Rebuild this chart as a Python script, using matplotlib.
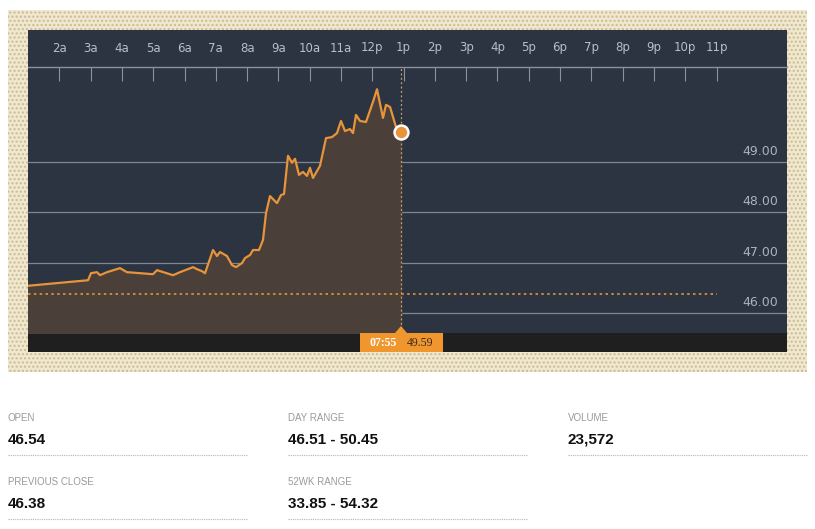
import matplotlib.pyplot as plt
from matplotlib.patches import Rectangle, Polygon

# intraday price, x in hours (1 = 1a)
px_x = [28, 88, 91, 97, 100, 107, 120, 127, 153, 157, 173, 180, 193, 197, 202, 205, 213, 217, 220, 227,
        232, 236, 242, 245, 250, 253, 259, 263, 266, 270, 277, 281, 284, 288, 292, 295, 299, 303, 307, 310,
        313, 320, 326, 332, 337, 341, 345, 350, 353, 356, 360, 366, 373, 377, 383, 386, 390, 396, 401]
hours = [1 + (v - 28) / 31.3 for v in px_x]
prices = [46.54, 46.65, 46.79, 46.81, 46.75, 46.81, 46.89, 46.81, 46.77, 46.85, 46.75, 46.81, 46.91, 46.87,
          46.83, 46.79, 47.25, 47.13, 47.21, 47.13, 46.95, 46.91, 46.99, 47.09, 47.15, 47.25, 47.25, 47.45,
          47.98, 48.32, 48.18, 48.34, 48.36, 49.12, 48.98, 49.06, 48.74, 48.80, 48.72, 48.88, 48.68, 48.92,
          49.47, 49.49, 49.57, 49.81, 49.61, 49.65, 49.57, 49.93, 49.81, 49.79, 50.19, 50.44, 49.87, 50.13,
          50.09, 49.69, 49.59]
prev_close = 46.38
last_time = "07:55"
last_price = "49.59"
tick_labels = ["2a", "3a", "4a", "5a", "6a", "7a", "8a", "9a", "10a", "11a", "12p",
               "1p", "2p", "3p", "4p", "5p", "6p", "7p", "8p", "9p", "10p", "11p"]
tick_hours = list(range(2, 24))
grid_prices = [46, 47, 48, 49]
stats = [("OPEN", "46.54"), ("DAY RANGE", "46.51 - 50.45"), ("VOLUME", "23,572"),
         ("PREVIOUS CLOSE", "46.38"), ("52WK RANGE", "33.85 - 54.32")]

W, H = 815, 529
fig = plt.figure(figsize=(W / 100, H / 100), dpi=100)
fig.patch.set_facecolor('white')

def fr(x0, y0, x1, y1):
    return [x0 / W, 1 - y1 / H, (x1 - x0) / W, (y1 - y0) / H]

# beige dotted frame + dark panel (behind the axes)
fig.patches.append(Rectangle((8 / W, 1 - 372 / H), 799 / W, 362 / H, transform=fig.transFigure,
                             facecolor='#efe7d0', edgecolor='#cdbb8c', hatch='....', lw=0, zorder=-3))
fig.patches.append(Rectangle((28 / W, 1 - 352 / H), 759 / W, 322 / H, transform=fig.transFigure,
                             facecolor='#2b3440', edgecolor='none', zorder=-2))
fig.patches.append(Rectangle((28 / W, 1 - 352 / H), 759 / W, 19 / H, transform=fig.transFigure,
                             facecolor='#1f1f1f', edgecolor='none', zorder=-1))

ax = fig.add_axes(fr(28, 67, 787, 333))
ax.set_facecolor('#2b3440')
xlim = (1, 1 + (787 - 28) / 31.3)
ax.set_xlim(*xlim)
ax.set_ylim(46 - 20 / 50.4, 46 + 246 / 50.4)
for s in ['left', 'right', 'bottom']:
    ax.spines[s].set_visible(False)
ax.spines['top'].set_color('#8a929c')
ax.spines['top'].set_linewidth(1)
ax.xaxis.tick_top()
ax.set_xticks(tick_hours)
ax.set_xticklabels(tick_labels, color='#b7bec8', fontsize=8.5)
ax.tick_params(axis='x', direction='in', length=10, color='#8a929c', pad=9)
ax.set_yticks([])

for g in grid_prices:
    ax.axhline(g, color='#7e8690', lw=0.9, zorder=1)
    ax.text(xlim[1] - 0.28, g + 0.08, f"{g:.2f}", color='#aab2bc', fontsize=9, ha='right', va='bottom')

ax.fill_between(hours, prices, ax.get_ylim()[0], color='#4a4039', zorder=2)
ax.plot(hours, prices, color='#e8943a', lw=1.6, zorder=3)
ax.axhline(prev_close, xmin=0, xmax=(23 - xlim[0]) / (xlim[1] - xlim[0]), color='#e8943a',
           ls=(0, (1.5, 2)), lw=1.2, zorder=3)
ax.axvline(hours[-1], color='#c7a070', ls=(0, (1.5, 2)), lw=0.9, zorder=3)
ax.plot(hours[-1], prices[-1], 'o', ms=10, mfc='#e8943a', mec='white', mew=1.8, zorder=5)

# time/price tag
fig.patches.append(Rectangle((360 / W, 1 - 352 / H), 83 / W, 19 / H, transform=fig.transFigure,
                             facecolor='#f0962e', edgecolor='none', zorder=5))
fig.patches.append(Polygon([(395 / W, 1 - 333 / H), (407 / W, 1 - 333 / H), (401 / W, 1 - 326 / H)],
                           transform=fig.transFigure, facecolor='#f0962e', edgecolor='none', zorder=5))
fig.text(383 / W, 1 - 343 / H, last_time, color='white', fontsize=8.5, fontweight='bold',
         ha='center', va='center', family='Liberation Serif', zorder=6)
fig.text(420 / W, 1 - 343 / H, last_price, color='#3a2a1a', fontsize=8.5,
         ha='center', va='center', family='Liberation Serif', zorder=6)

# stats block
cols = [8, 288, 568]
rows = [418, 482]
for i, (lab, val) in enumerate(stats):
    x0 = cols[i % 3]
    y0 = rows[i // 3]
    fig.text(x0 / W, 1 - y0 / H, lab, color='#9a9a9a', fontsize=7, va='center', family='Liberation Sans')
    fig.text(x0 / W, 1 - (y0 + 22) / H, val, color='#111111', fontsize=11, fontweight='bold',
             va='center', family='Liberation Sans')
    fig.add_artist(plt.Line2D([x0 / W, (x0 + 240) / W], [1 - (y0 + 37) / H] * 2, transform=fig.transFigure,
                              color='#b5b5b5', lw=0.8, ls=(0, (1, 1))))

fig.savefig('out.png', dpi=100, facecolor=fig.get_facecolor())
